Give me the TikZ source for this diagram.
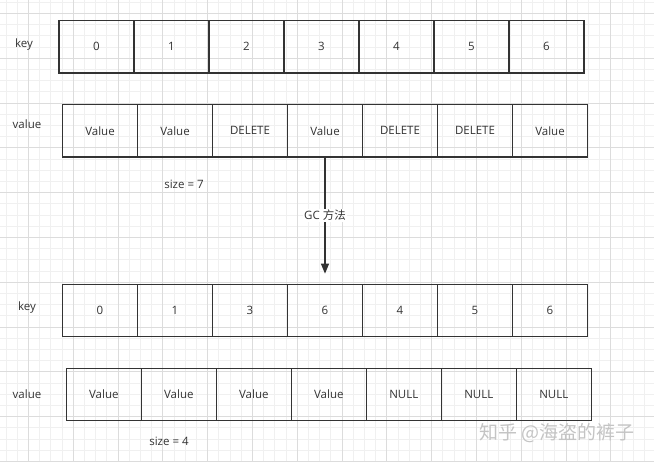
\documentclass[tikz,border=0pt]{standalone}
\usepackage{fontspec}
\setmainfont{Open Sans}
\newfontfamily\cjk{Noto Sans CJK SC}
\usetikzlibrary{arrows.meta}

\definecolor{linegray}{HTML}{333333}
\definecolor{gridminor}{HTML}{F0F0F0}
\definecolor{gridmajor}{HTML}{DCDCDC}
\definecolor{markgray}{HTML}{C4C4C4}

\begin{document}
\begin{tikzpicture}[
    x=1pt,
    y=-1pt,
    cell/.style={
        draw=linegray,
        line width=1.2pt,
        minimum width=75pt,
        minimum height=52.5pt,
        inner sep=0pt,
        text=linegray,
        font=\fontsize{11.5}{13}\selectfont
    },
    rowlabel/.style={
        text=linegray,
        font=\fontsize{11.5}{13}\selectfont
    },
    gc arrow/.style={
        draw=linegray,
        line width=1.2pt,
        -{Triangle[length=10pt,width=8pt]}
    },
    minor line/.style={
        draw=gridminor,
        line width=0.8pt
    },
    major line/.style={
        draw=gridmajor,
        line width=0.8pt
    },
    ]
    \useasboundingbox (0,0) rectangle (654,462);
    \fill[white] (0,0) rectangle (654,462);
    \foreach \i in {0,...,58}
        \draw[minor line] ({5.9+11.2*\i},0) -- ++(0,462);
    \foreach \i in {0,...,41}
        \draw[minor line] (0,{2.3+11.2*\i}) -- ++(654,0);
    \foreach \i in {0,...,14}
        \draw[major line] ({28.3+44.8*\i},0) -- ++(0,462);
    \foreach \i in {0,...,10}
        \draw[major line] (0,{13.5+44.8*\i}) -- ++(654,0);

    \node[rowlabel] (topkey) at (24,45) {key};
    \node[rowlabel] (topvalue) at (27,124) {value};
    \node[rowlabel] (bottomkey) at (27,308) {key};
    \node[rowlabel] (bottomvalue) at (27,394) {value};

    \foreach \t [count=\i from 0] in {0,1,2,3,4,5,6}
        \node[cell] (tk\i) at ({96.5+75*\i},46.75) {\t};
    \foreach \t [count=\i from 0] in {Value,Value,DELETE,Value,DELETE,DELETE,Value}
        \node[cell] (tv\i) at ({100+75*\i},130.75) {\t};
    \foreach \t [count=\i from 0] in {0,1,3,6,4,5,6}
        \node[cell] (bk\i) at ({100+75*\i},310.5) {\t};
    \foreach \t [count=\i from 0] in {Value,Value,Value,Value,NULL,NULL,NULL}
        \node[cell] (bv\i) at ({103.8+75*\i},394.5) {\t};

    \node[rowlabel] (topsize) at (184,184) {size = 7};
    \node[rowlabel] (bottomsize) at (169,441) {size = 4};

    \draw[gc arrow, shorten >=10pt] (tv3.south) -- (bk3.north)
        node[pos=0.46, fill=white, inner sep=1pt, rowlabel] (gc) {GC {\cjk 方法}};

    \node[text=markgray, font=\cjk\fontsize{19}{21}\selectfont] (mark) at (557,433) {知乎 @海盗的裤子};
\end{tikzpicture}
\end{document}
